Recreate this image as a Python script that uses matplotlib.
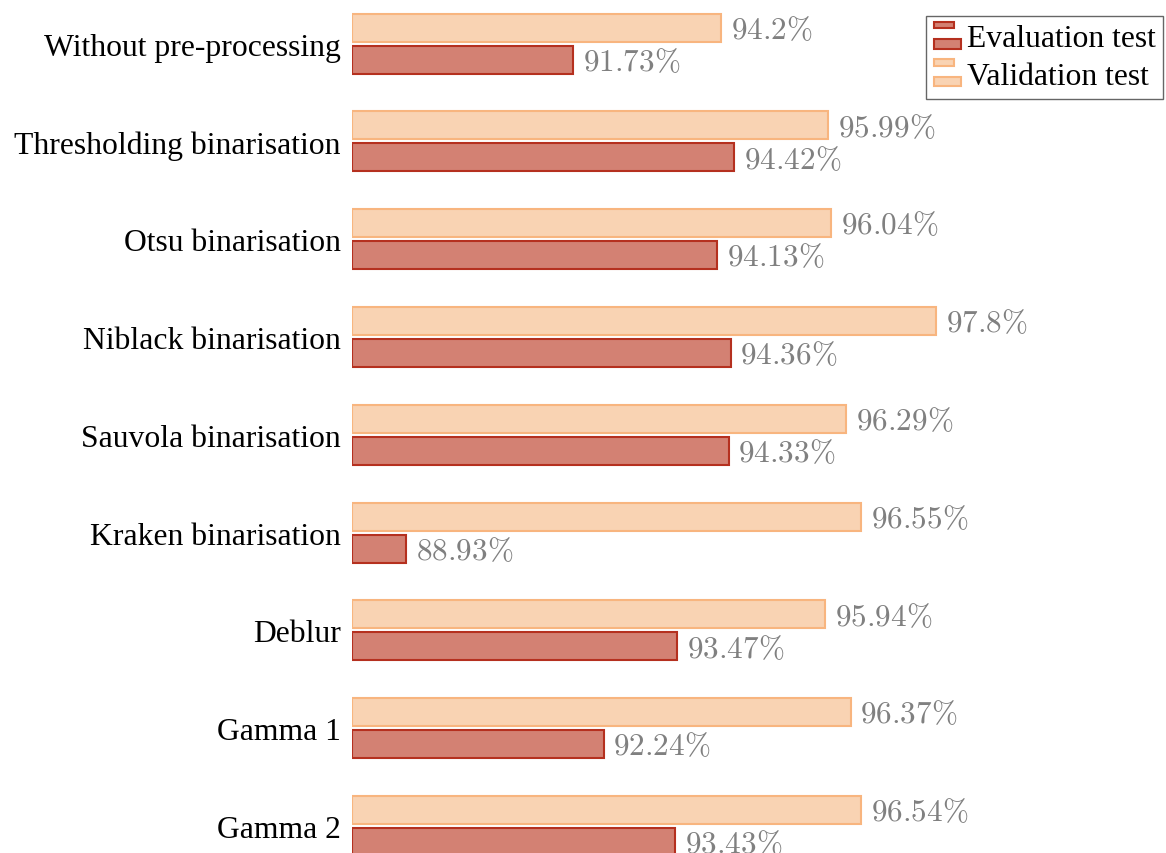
import numpy as np
import matplotlib
matplotlib.use('Agg')
from matplotlib import pyplot as plt
from matplotlib.patches import Rectangle
from matplotlib.legend_handler import HandlerBase

plt.rcParams['mathtext.fontset'] = 'cm'
plt.rcParams['font.family'] = ['Liberation Serif', 'DejaVu Serif']

# data
methods = ['Without pre-processing', 'Thresholding binarisation', 'Otsu binarisation',
           'Niblack binarisation', 'Sauvola binarisation', 'Kraken binarisation',
           'Deblur', 'Gamma 1', 'Gamma 2']
validation = [94.2, 95.99, 96.04, 97.8, 96.29, 96.55, 95.94, 96.37, 96.54]
evaluation = [91.73, 94.42, 94.13, 94.36, 94.33, 88.93, 93.47, 92.24, 93.43]
val_labels = ['94.2', '95.99', '96.04', '97.8', '96.29', '96.55', '95.94', '96.37', '96.54']
eval_labels = ['91.73', '94.42', '94.13', '94.36', '94.33', '88.93', '93.47', '92.24', '93.43']

val_face, val_edge = '#f9d3b3', '#f8b57f'
eval_face, eval_edge = '#d38173', '#b5301f'

W, H = 1166, 854
fig = plt.figure(figsize=(W/100, H/100), dpi=100)
ax = fig.add_axes([352/W, 0, (990-352)/W, 1])

xmin = 88.03
ax.set_xlim(xmin, xmin + (990-352)/59.8)
ax.set_ylim((854-44.6)/97.8, -44.6/97.8)

y = np.arange(len(methods))
bh = 28/97.8
off = 16/97.8

ax.barh(y - off, np.array(validation) - xmin, left=xmin, height=bh,
        color=val_face, edgecolor=val_edge, linewidth=1.5)
ax.barh(y + off, np.array(evaluation) - xmin, left=xmin, height=bh,
        color=eval_face, edgecolor=eval_edge, linewidth=1.5)

for i in range(len(methods)):
    ax.annotate('$' + val_labels[i] + r'\%$', (validation[i], y[i] - off),
                xytext=(7, -2), textcoords='offset points', va='center', ha='left',
                fontsize=22.5, color='#808080')
    ax.annotate('$' + eval_labels[i] + r'\%$', (evaluation[i], y[i] + off),
                xytext=(7, -2), textcoords='offset points', va='center', ha='left',
                fontsize=22.5, color='#808080')

ax.set_yticks(y)
ax.set_yticklabels(methods, fontsize=22.8)
ax.tick_params(axis='y', length=0, pad=8)
ax.set_xticks([])
for s in ax.spines.values():
    s.set_visible(False)


class TwoBars(HandlerBase):
    # pgfplots style ybar legend image: two stacked small bars
    def create_artists(self, legend, orig_handle, xdescent, ydescent,
                       width, height, fontsize, trans):
        face = orig_handle.get_facecolor()
        edge = orig_handle.get_edgecolor()
        r1 = Rectangle((-xdescent, -ydescent + height * 0.8), width * 0.75, height * 0.3,
                       facecolor=face, edgecolor=edge, linewidth=1.5, transform=trans)
        r2 = Rectangle((-xdescent, -ydescent - height * 0.12), width, height * 0.42,
                       facecolor=face, edgecolor=edge, linewidth=1.5, transform=trans)
        return [r1, r2]


h_eval = Rectangle((0, 0), 1, 1, facecolor=eval_face, edgecolor=eval_edge)
h_val = Rectangle((0, 0), 1, 1, facecolor=val_face, edgecolor=val_edge)
leg = fig.legend([h_eval, h_val], ['Evaluation test', 'Validation test'],
                 handler_map={Rectangle: TwoBars()},
                 loc='upper left', bbox_to_anchor=(926/W, 1 - 17/H),
                 fontsize=22.8, frameon=True, fancybox=False, edgecolor='#404040',
                 handlelength=0.85, handletextpad=0.18, borderpad=0.25,
                 labelspacing=0.27, borderaxespad=0)
leg.get_frame().set_linewidth(1.0)

fig.savefig('out.png', dpi=100)
